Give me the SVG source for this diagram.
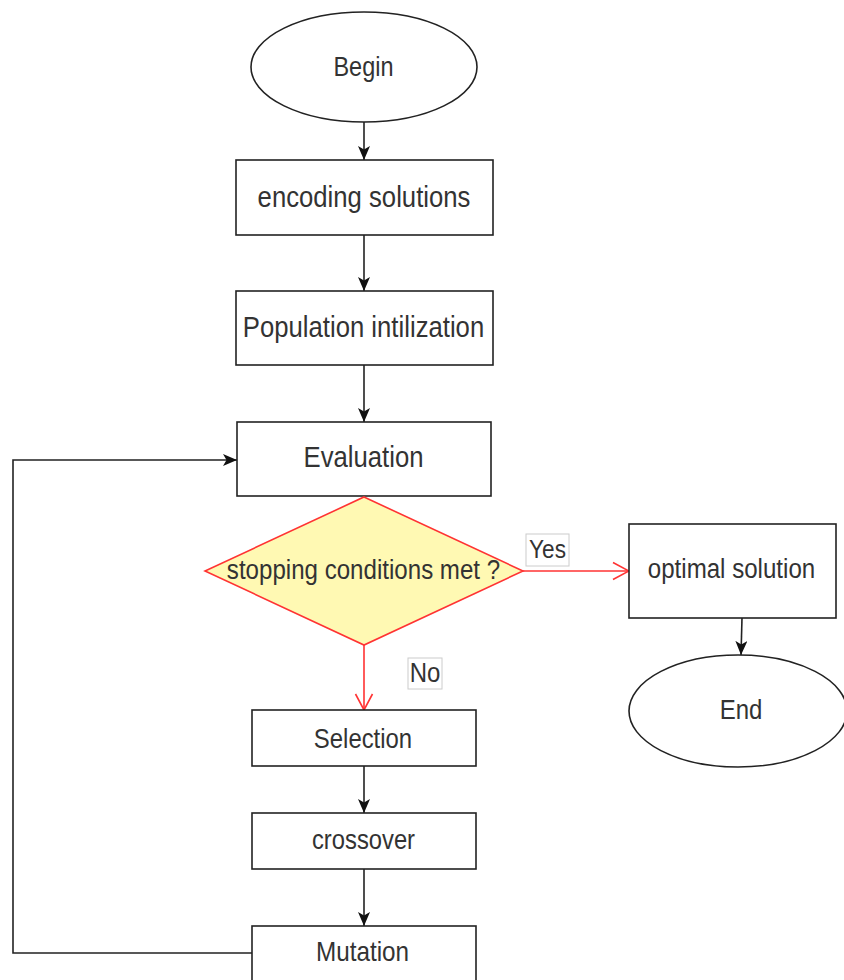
<svg xmlns="http://www.w3.org/2000/svg" width="844" height="980" viewBox="0 0 844 980">
  <style>
    .box { fill: #ffffff; stroke: #222222; stroke-width: 1.6; }
    .decision { fill: #fff9b3; stroke: #ff3333; stroke-width: 1.6; }
    .label { font-family: "Liberation Sans", Arial, sans-serif; fill: #333333; text-anchor: middle; }
    .edge { fill: none; stroke: #222222; stroke-width: 1.6; }
    .edge-red { fill: none; stroke: #ff3333; stroke-width: 1.6; }
    .tag { fill: #ffffff; stroke: #cccccc; stroke-width: 1; }
  </style>
  <defs>
    <marker id="arrow" markerUnits="userSpaceOnUse" markerWidth="14" markerHeight="12" viewBox="0 0 14 12" refX="14" refY="6" orient="auto">
      <path d="M0,0 L14,6 L0,12 L3.5,6 Z" fill="#111111"/>
    </marker>
    <marker id="open-red" markerUnits="userSpaceOnUse" markerWidth="18" markerHeight="20" viewBox="0 0 18 20" refX="17" refY="10" orient="auto">
      <path d="M1,1.5 L17,10 L1,18.5" fill="none" stroke="#ff3333" stroke-width="1.6"/>
    </marker>
  </defs>

  <rect width="844" height="980" fill="#ffffff"/>

  <!-- connectors -->
  <g id="connectors">
    <line class="edge" x1="364" y1="122" x2="364" y2="160" marker-end="url(#arrow)"/>
    <line class="edge" x1="364" y1="235" x2="364" y2="291" marker-end="url(#arrow)"/>
    <line class="edge" x1="364" y1="365" x2="364" y2="422" marker-end="url(#arrow)"/>
    <line class="edge-red" x1="523" y1="571" x2="629" y2="571" marker-end="url(#open-red)"/>
    <line class="edge-red" x1="364" y1="645" x2="364" y2="710" marker-end="url(#open-red)"/>
    <line class="edge" x1="742" y1="618" x2="741" y2="655" marker-end="url(#arrow)"/>
    <line class="edge" x1="364" y1="766" x2="364" y2="813" marker-end="url(#arrow)"/>
    <line class="edge" x1="364" y1="869" x2="364" y2="926" marker-end="url(#arrow)"/>
    <polyline class="edge" points="252,953 13,953 13,460 237,460" marker-end="url(#arrow)"/>
    <g id="label-yes">
      <rect class="tag" x="526" y="534" width="43" height="32"/>
      <text class="label" font-size="22.6" transform="translate(547.5 558.3) scale(1 1.15)">Yes</text>
    </g>
    <g id="label-no">
      <rect class="tag" x="408" y="658" width="34" height="31"/>
      <text class="label" font-size="24" transform="translate(425 681.7) scale(1 1.15)">No</text>
    </g>
  </g>

  <!-- nodes -->
  <g id="begin">
    <ellipse class="box" cx="364" cy="67" rx="113" ry="55"/>
    <text class="label" font-size="23.5" transform="translate(363.5 76) scale(1 1.15)">Begin</text>
  </g>
  <g id="encoding">
    <rect class="box" x="236" y="160" width="257" height="75"/>
    <text class="label" font-size="25.7" transform="translate(364 206.7) scale(1 1.15)">encoding solutions</text>
  </g>
  <g id="population">
    <rect class="box" x="236" y="291" width="257" height="74"/>
    <text class="label" font-size="25.7" transform="translate(363.5 337.3) scale(1 1.15)">Population intilization</text>
  </g>
  <g id="evaluation">
    <rect class="box" x="237" y="422" width="254" height="74"/>
    <text class="label" font-size="25.7" transform="translate(363.5 467.3) scale(1 1.15)">Evaluation</text>
  </g>
  <g id="stopping">
    <polygon class="decision" points="364,497 523,571 364,645 205,571"/>
    <text class="label" font-size="24.1" transform="translate(363.5 579.3) scale(1 1.15)">stopping conditions met ?</text>
  </g>
  <g id="optimal">
    <rect class="box" x="629" y="524" width="207" height="94"/>
    <text class="label" font-size="24.1" transform="translate(731.5 578.3) scale(1 1.15)">optimal solution</text>
  </g>
  <g id="end">
    <ellipse class="box" cx="738" cy="711" rx="109" ry="56"/>
    <text class="label" font-size="24" transform="translate(741 719.3) scale(1 1.15)">End</text>
  </g>
  <g id="selection">
    <rect class="box" x="252" y="710" width="224" height="56"/>
    <text class="label" font-size="23.9" transform="translate(363 748.3) scale(1 1.15)">Selection</text>
  </g>
  <g id="crossover">
    <rect class="box" x="252" y="813" width="224" height="56"/>
    <text class="label" font-size="23.8" transform="translate(363.5 848.7) scale(1 1.15)">crossover</text>
  </g>
  <g id="mutation">
    <rect class="box" x="252" y="926" width="224" height="58"/>
    <text class="label" font-size="24.3" transform="translate(362.5 960.7) scale(1 1.15)">Mutation</text>
  </g>
</svg>
